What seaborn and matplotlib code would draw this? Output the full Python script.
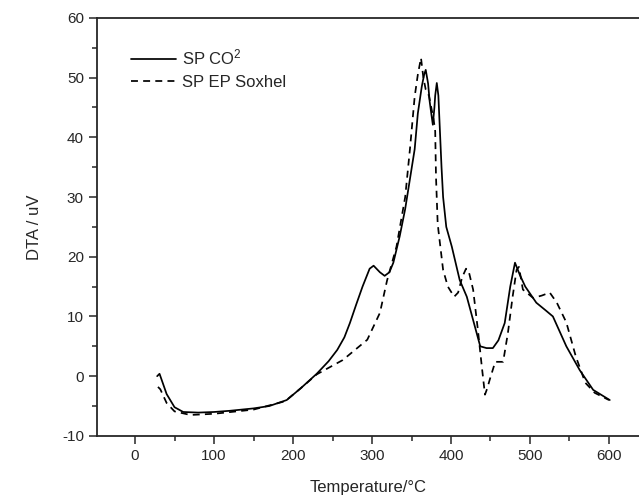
import pandas as pd
import seaborn as sns
import matplotlib.pyplot as plt
from matplotlib.ticker import MultipleLocator

# Solid curve: SP CO2
co2_temp = [28, 31, 40, 50, 61, 80, 100, 120, 150, 170, 192, 210, 230, 245, 256, 265, 272,
            280, 288, 297, 302, 310, 316, 322, 327, 335, 342, 348, 354, 358, 363, 366, 368,
            371, 373, 375, 377, 379, 380, 382, 384, 386, 388, 390, 394, 401, 411, 420, 428,
            437, 445, 453, 460, 468, 475, 481, 487, 494, 508, 520, 529, 546, 563, 580, 601]
co2_dta = [0.0, 0.4, -3.0, -5.2, -6.0, -6.1, -6.0, -5.8, -5.4, -5.0, -4.0, -2.0, 0.4, 2.5,
           4.4, 6.5, 8.9, 12.0, 15.0, 18.0, 18.5, 17.4, 16.8, 17.4, 19.0, 23.4, 28.0, 33.0,
           38.0, 44.0, 48.5, 50.5, 51.3, 49.0, 46.0, 44.0, 42.1, 45.0, 47.0, 49.1, 47.0,
           41.0, 35.0, 30.0, 25.0, 21.7, 16.1, 13.3, 9.4, 5.0, 4.7, 4.7, 6.0, 8.9, 15.0,
           19.0, 17.0, 15.0, 12.3, 11.0, 10.0, 5.0, 1.0, -2.3, -4.0]

# Dashed curve: SP EP Soxhel
sox_temp = [29, 32, 40, 50, 70, 100, 150, 190, 210, 230, 263, 294, 310, 319, 331, 342, 348,
            354, 358, 362, 365, 368, 372, 375, 378, 380, 381, 383, 384, 390, 396, 404, 409,
            414, 419, 422, 428, 434, 439, 443, 446, 449, 456, 466, 472, 478, 483, 486, 491,
            504, 515, 525, 534, 546, 558, 570, 582, 600]
sox_dta = [-1.8, -2.2, -4.5, -5.9, -6.5, -6.3, -5.6, -4.2, -2.0, 0.3, 2.7, 6.1, 10.6, 16.0,
           21.7, 30.0, 38.0, 46.8, 50.5, 53.3, 50.0, 48.0, 47.0, 45.0, 43.0, 41.0, 33.4,
           26.0, 24.5, 17.8, 15.0, 13.3, 14.0, 16.5, 18.0, 17.8, 14.5, 7.8, 1.6, -3.1,
           -2.0, -0.6, 2.4, 2.4, 7.2, 13.3, 17.8, 18.3, 14.5, 13.1, 13.5, 14.0, 12.3, 9.0,
           3.3, -1.1, -2.8, -4.0]

labels = ["SP CO$^{2}$", "SP EP Soxhel"]

df = pd.concat([
    pd.DataFrame({"T": co2_temp, "DTA": co2_dta, "sample": labels[0]}),
    pd.DataFrame({"T": sox_temp, "DTA": sox_dta, "sample": labels[1]}),
])

sns.set_style("ticks")
plt.rcParams['font.family'] = ['Liberation Sans', 'DejaVu Sans']
plt.rcParams['axes.unicode_minus'] = False
plt.rcParams['mathtext.default'] = 'regular'

fig = plt.figure(figsize=(6.39, 4.97), dpi=100)
ax = fig.add_axes([0.152, 0.123, 0.848, 0.841])

sns.lineplot(data=df, x="T", y="DTA", hue="sample", style="sample",
             palette=["black", "black"], dashes=[(None, None), (4, 3)],
             sort=False, estimator=None, linewidth=1.25, ax=ax)

ax.set_xlim(-48, 638)
ax.set_ylim(-10, 60)
ax.xaxis.set_major_locator(MultipleLocator(100))
ax.xaxis.set_minor_locator(MultipleLocator(50))
ax.yaxis.set_major_locator(MultipleLocator(10))
ax.yaxis.set_minor_locator(MultipleLocator(5))
ax.tick_params(which="major", direction="out", length=6, width=1.1, labelsize=11)
ax.tick_params(which="minor", direction="out", length=3.5, width=1.1)
for side in ["left", "bottom", "top"]:
    ax.spines[side].set_linewidth(1.3)
ax.spines["right"].set_visible(False)

ax.set_xlabel("Temperature/°C", fontsize=12, labelpad=12)
ax.set_ylabel("DTA / uV", fontsize=12, labelpad=14)

leg = ax.legend(title=None, loc="upper left", frameon=False, fontsize=12,
                bbox_to_anchor=(0.035, 0.965), handlelength=2.7, handletextpad=0.35,
                labelspacing=0.45)

fig.savefig("out.png", dpi=100)
